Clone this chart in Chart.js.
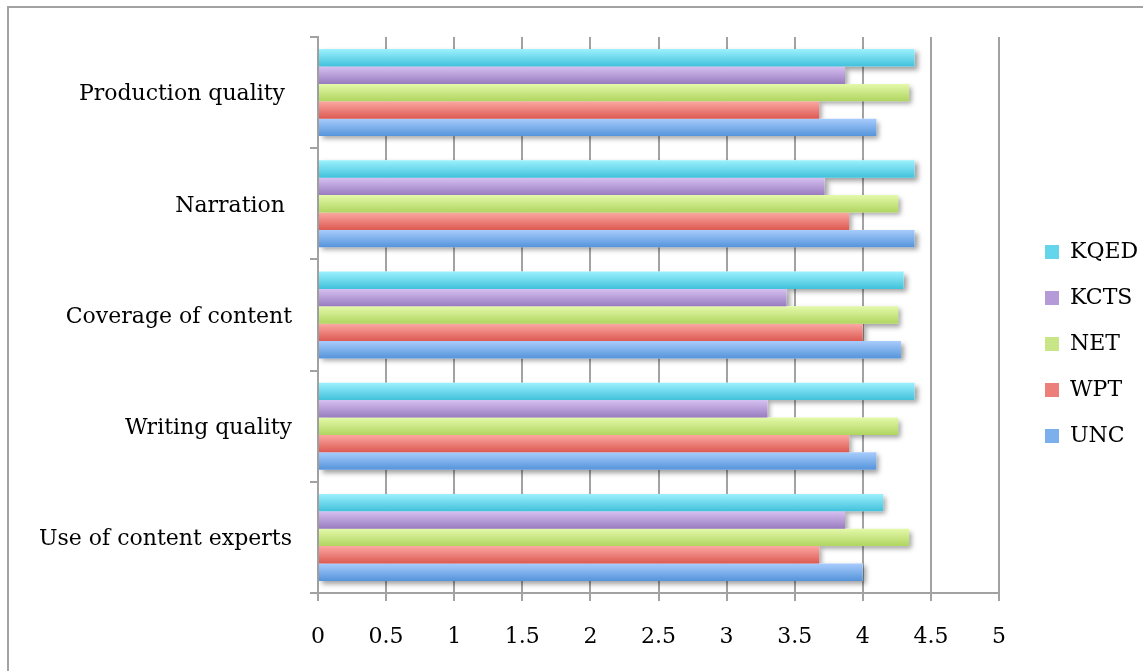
<!DOCTYPE html>
<html>
<head>
<meta charset="utf-8">
<title>Program quality ratings by station</title>
<script src="https://cdn.jsdelivr.net/npm/chart.js@4/dist/chart.umd.min.js"></script>
<style>
  html, body { margin: 0; padding: 0; background: #ffffff; }
  #wrap { width: 1143px; height: 671px; }
</style>
</head>
<body>
<div id="wrap"><canvas id="chart" width="1143" height="671"></canvas></div>
<script>
// Rating categories, listed top to bottom
const categories = ['Production quality ', 'Narration ', 'Coverage of content', 'Writing quality', 'Use of content experts'];

// Mean ratings per station (same order as categories)
const KQED = [4.38, 4.38, 4.30, 4.38, 4.15];
const KCTS = [3.87, 3.72, 3.44, 3.30, 3.87];
const NET  = [4.34, 4.26, 4.26, 4.26, 4.34];
const WPT  = [3.68, 3.90, 4.00, 3.90, 3.68];
const UNC  = [4.10, 4.38, 4.28, 4.10, 4.00];

// Value axis range and tick step
const xMin = 0;
const xMax = 5;
const xStep = 0.5;

// Top / bottom colours of each bar's vertical gradient, plus a flat legend swatch
const palette = {
  KQED: { top: '#9cf1fd', bottom: '#41c1db', swatch: '#64d5ea' },
  KCTS: { top: '#d6c1f1', bottom: '#987bbf', swatch: '#b49bd8' },
  NET:  { top: '#e4f9aa', bottom: '#b0d560', swatch: '#c9e686' },
  WPT:  { top: '#fca8a3', bottom: '#dc5a52', swatch: '#ec7f79' },
  UNC:  { top: '#a8ccfd', bottom: '#5594da', swatch: '#7cb0ec' }
};

const FONT = "'DejaVu Serif', 'Liberation Serif', serif";
const GRID = '#a2a2a2';

function barGradient(name) {
  const c = palette[name];
  return function (ctx) {
    const el = ctx.element;
    if (!el || el.y === undefined || !el.height || !isFinite(el.y)) return c.bottom;
    const g = ctx.chart.ctx.createLinearGradient(0, el.y - el.height / 2, 0, el.y + el.height / 2);
    g.addColorStop(0, c.top);
    g.addColorStop(1, c.bottom);
    return g;
  };
}

function series(name, values) {
  return {
    label: name,
    data: values,
    backgroundColor: barGradient(name),
    borderWidth: 0,
    barPercentage: 1.0,
    categoryPercentage: 0.782
  };
}

// White page with a grey frame running off the right and bottom edges
const framePlugin = {
  id: 'frame',
  beforeDraw(chart) {
    const c = chart.ctx;
    c.save();
    c.fillStyle = '#ffffff';
    c.fillRect(0, 0, chart.width, chart.height);
    c.strokeStyle = GRID;
    c.lineWidth = 2;
    c.strokeRect(8, 7, chart.width + 40, chart.height + 40);
    c.restore();
  }
};

// Soft drop shadow behind every bar, painted before the bars themselves
const shadowPlugin = {
  id: 'barShadow',
  beforeDatasetsDraw(chart) {
    const c = chart.ctx;
    c.save();
    c.shadowColor = 'rgba(0,0,0,0.38)';
    c.shadowBlur = 5;
    c.shadowOffsetX = 3;
    c.shadowOffsetY = 3;
    c.fillStyle = '#ffffff';
    chart.getSortedVisibleDatasetMetas().forEach(meta => {
      meta.data.forEach(bar => {
        const p = bar.getProps(['x', 'y', 'base', 'height'], true);
        c.fillRect(p.base, p.y - p.height / 2, p.x - p.base, p.height);
      });
    });
    c.restore();
  }
};

// Nudge the legend a little away from the plot area and let it use the full right margin
const legendOffsetPlugin = {
  id: 'legendOffset',
  afterLayout(chart) {
    const lg = chart.legend;
    if (lg) { lg.left += 22; lg.right = chart.width; lg.width = lg.right - lg.left; }
  }
};

const chart = new Chart(document.getElementById('chart'), {
  type: 'bar',
  data: {
    labels: categories,
    datasets: [
      series('KQED', KQED),
      series('KCTS', KCTS),
      series('NET', NET),
      series('WPT', WPT),
      series('UNC', UNC)
    ]
  },
  options: {
    indexAxis: 'y',
    responsive: false,
    animation: false,
    events: [],
    layout: { padding: { top: 37, bottom: 20, left: 10, right: 34 } },
    scales: {
      x: {
        type: 'linear',
        min: xMin,
        max: xMax,
        ticks: {
          stepSize: xStep,
          color: '#000000',
          font: { family: FONT, size: 22 },
          padding: 23,
          callback: value => String(value)
        },
        grid: { color: GRID, lineWidth: 2, drawTicks: true, tickLength: 8 },
        border: { display: true, color: GRID, width: 2 },
        afterFit(scale) { scale.height = 58; }
      },
      y: {
        type: 'category',
        ticks: {
          color: '#000000',
          font: { family: FONT, size: 22 },
          padding: 18,
          labelOffset: 2
        },
        grid: { display: true, drawOnChartArea: false, drawTicks: true, tickLength: 8, color: GRID, lineWidth: 2, offset: true },
        border: { display: true, color: GRID, width: 2 },
        afterFit(scale) { scale.width = 308; }
      }
    },
    plugins: {
      tooltip: { enabled: false },
      legend: {
        position: 'right',
        align: 'center',
        maxWidth: 110,
        labels: {
          boxWidth: 14,
          boxHeight: 14,
          padding: 24,
          color: '#000000',
          font: { family: FONT, size: 22 },
          generateLabels(ch) {
            const items = Chart.defaults.plugins.legend.labels.generateLabels(ch);
            items.forEach(it => {
              const name = ch.data.datasets[it.datasetIndex].label;
              it.fillStyle = palette[name].swatch;
              it.strokeStyle = 'rgba(0,0,0,0)';
              it.lineWidth = 0;
            });
            return items;
          }
        }
      }
    }
  },
  plugins: [framePlugin, shadowPlugin, legendOffsetPlugin]
});

// Second pass so each bar's gradient follows its final position
chart.update('none');
</script>
</body>
</html>
